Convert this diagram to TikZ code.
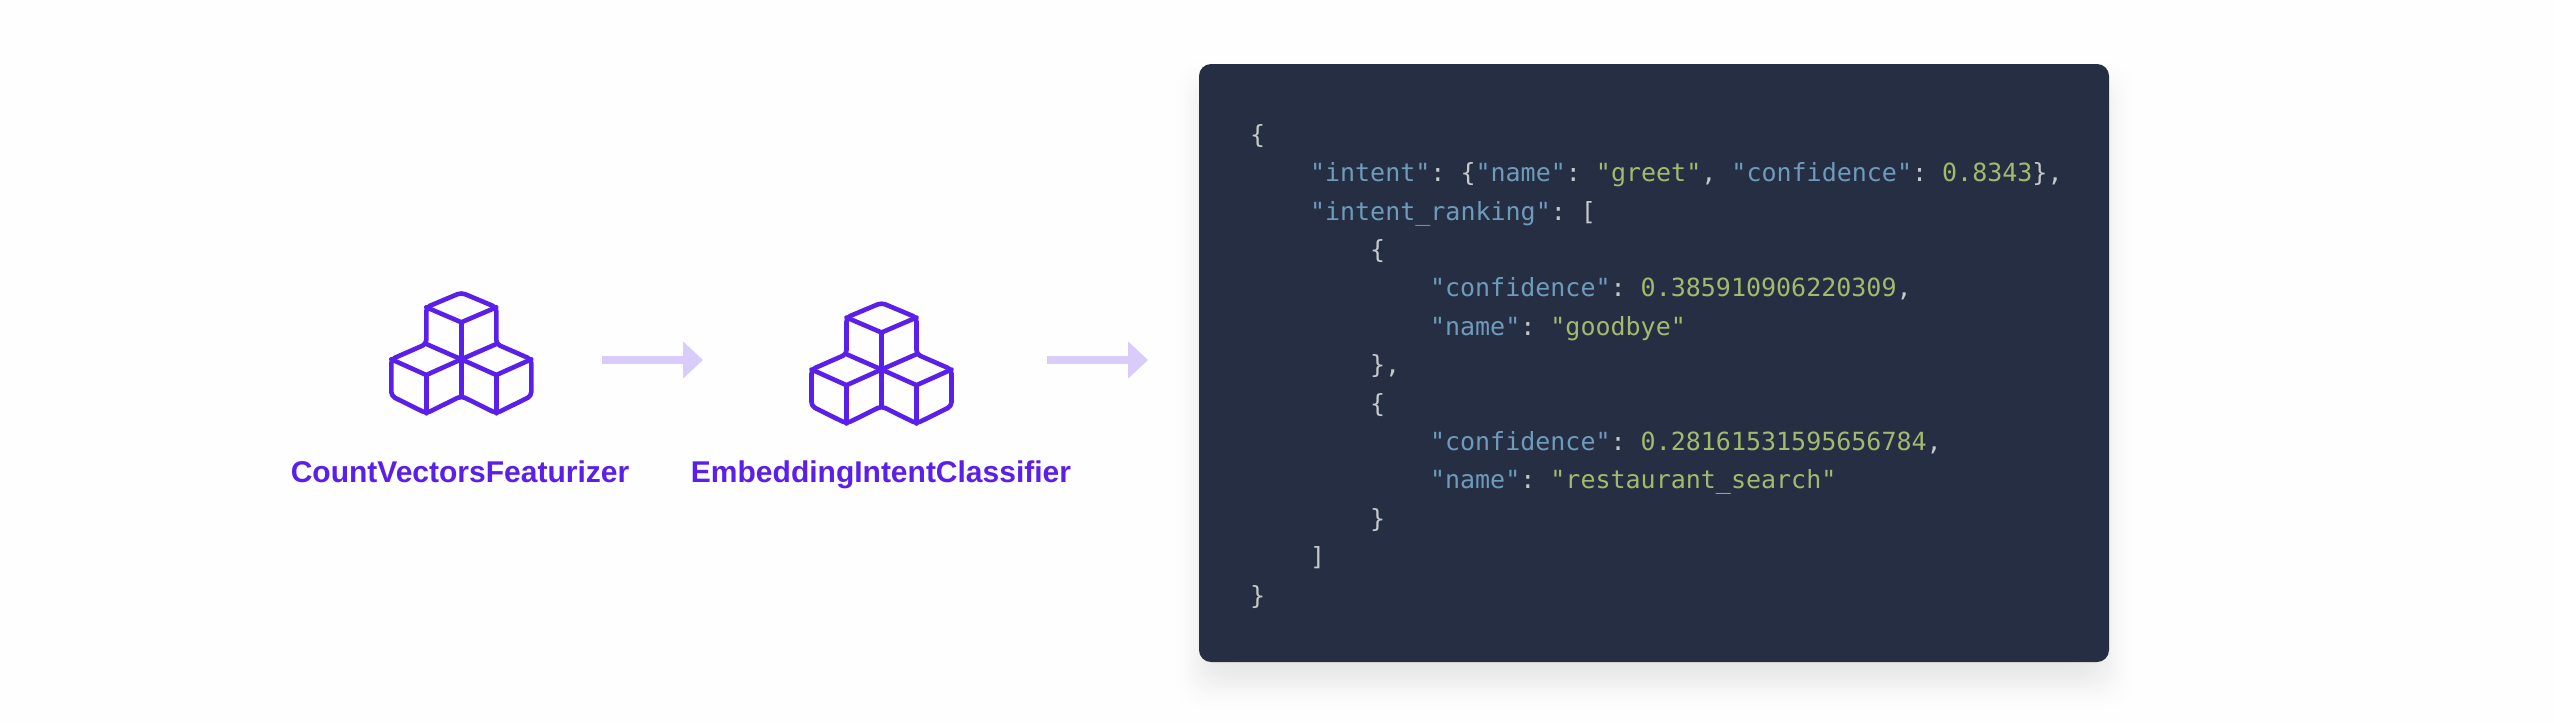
\documentclass[tikz,border=0pt]{standalone}
\usepackage{fontspec}
\usetikzlibrary{arrows.meta}
\newfontfamily\codefont{DejaVu Sans Mono}
\newfontfamily\labelfont{Liberation Sans}
\definecolor{rasapurple}{HTML}{5A1FEA}
\definecolor{arrowlilac}{HTML}{D9CCFA}
\definecolor{cardbg}{HTML}{252E42}
\definecolor{codegrey}{HTML}{C6C9C9}
\definecolor{codeblue}{HTML}{6F9BBB}
\definecolor{codegreen}{HTML}{A3B96E}
\newcommand{\Kk}[1]{\textcolor{codeblue}{#1}}
\newcommand{\Gg}[1]{\textcolor{codegreen}{#1}}
\tikzset{
  codeline/.style={anchor=base west,inner sep=0pt,outer sep=0pt,text=codegrey,font=\codefont\fontsize{25}{30}\selectfont\frenchspacing},
  complabel/.style={anchor=base,inner sep=0pt,text=rasapurple,font=\labelfont\bfseries\fontsize{30}{34}\selectfont},
  flowarrow/.style={draw=arrowlilac,line width=7.5pt,-{Triangle[length=20pt,width=36pt,fill=arrowlilac]}},
  cubeline/.style={draw=rasapurple,line width=4.6pt,line join=round,line cap=round},
  pics/cubes/.style={code={
    \draw[cubeline,rounded corners=4pt] (0,-66.7) -- (35,-52) -- (35,-15.3) -- (70,0) -- (70,36.7) -- (35,54) -- (0,36.7) -- (-35,54) -- (-70,36.7) -- (-70,0) -- (-35,-15.3) -- (-35,-52) -- cycle;
    \draw[cubeline] (-35,-52) -- (0,-37) -- (35,-52);
    \draw[cubeline] (0,-37) -- (0,36.7);
    \draw[cubeline] (-35,-15.3) -- (0,0) -- (35,-15.3);
    \draw[cubeline] (-70,0) -- (-35,15.7) -- (0,0) -- (35,15.7) -- (70,0);
    \draw[cubeline] (-35,15.7) -- (-35,54);
    \draw[cubeline] (35,15.7) -- (35,54);
  }}
}
\begin{document}
\begin{tikzpicture}[x=1pt,y=-1pt]
\useasboundingbox (0,0) rectangle (2554,726);
\fill[white!99.6!black] (0,0) rectangle (2554,726);
% soft shadow: opaque rings from outermost to innermost
\foreach \e in {28,26,...,-22}{
  \pgfmathsetmacro{\tt}{(28-\e)/50}
  \pgfmathsetmacro{\lev}{0.4+8.6*\tt*\tt*(3-2*\tt)}
  \fill[black!\lev!white,rounded corners=26pt] (1199-\e,64+22-\e) rectangle (2109+\e,662+22+\e);
}
% card
\node[fill=cardbg,draw=none,rounded corners=12pt,minimum width=910pt,minimum height=598pt,inner sep=0pt,outer sep=0pt] (card) at (1654,363) {};

% icons
\pic at (461.3,359.3) {cubes};
\pic at (881.5,369.5) {cubes};

% labels
\node[complabel] (cvf) at (460,482) {CountVectorsFeaturizer};
\node[complabel] (eic) at (881,482) {EmbeddingIntentClassifier};

% arrows
\coordinate (a1s) at (602,360);
\coordinate (a1e) at (703,360);
\coordinate (a2s) at (1047,360);
\coordinate (a2e) at (1148,360);
\draw[flowarrow] (a1s) -- (a1e);
\draw[flowarrow] (a2s) -- (a2e);

% code
\node[codeline] (l1) at (1250,143.2) {\{};
\node[codeline] (l2) at (1310,181.6) {\Kk{"intent"}: \{\Kk{"name"}: \Gg{"greet"}, \Kk{"confidence"}: \Gg{0.8343}\},};
\node[codeline] (l3) at (1310,220) {\Kk{"intent\_ranking"}: [};
\node[codeline] (l4) at (1370,258.4) {\{};
\node[codeline] (l5) at (1430,296.8) {\Kk{"confidence"}: \Gg{0.385910906220309},};
\node[codeline] (l6) at (1430,335.2) {\Kk{"name"}: \Gg{"goodbye"}};
\node[codeline] (l7) at (1370,373.6) {\},};
\node[codeline] (l8) at (1370,412) {\{};
\node[codeline] (l9) at (1430,450.4) {\Kk{"confidence"}: \Gg{0.28161531595656784},};
\node[codeline] (l10) at (1430,488.8) {\Kk{"name"}: \Gg{"restaurant\_search"}};
\node[codeline] (l11) at (1370,527.2) {\}};
\node[codeline] (l12) at (1310,565.6) {]};
\node[codeline] (l13) at (1250,604) {\}};
\end{tikzpicture}
\end{document}
